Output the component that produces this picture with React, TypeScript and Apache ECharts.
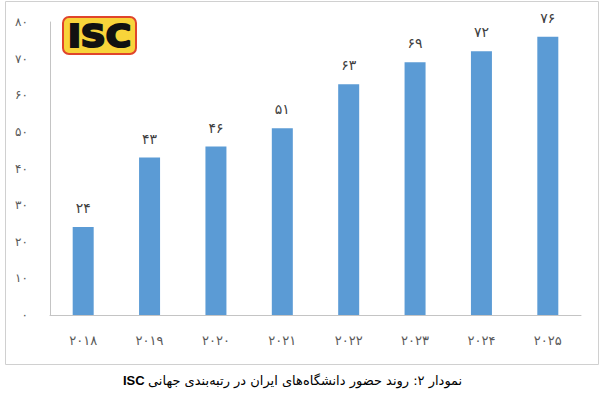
import React, { useEffect, useRef } from "react";
import * as echarts from "echarts";

// Years on the category axis (Persian digits)
const years = ["۲۰۱۸", "۲۰۱۹", "۲۰۲۰", "۲۰۲۱", "۲۰۲۲", "۲۰۲۳", "۲۰۲۴", "۲۰۲۵"];
// Number of Iranian universities in the ISC world ranking
const universities = [24, 43, 46, 51, 63, 69, 72, 76];
// Value axis range
const yMin = 0;
const yMax = 80;
const yStep = 10;

const caption = "نمودار ۲: روند حضور دانشگاه‌های ایران در رتبه‌بندی جهانی";

const faDigits = "۰۱۲۳۴۵۶۷۸۹";
const toFa = (v: number | string) =>
  String(v).replace(/[0-9]/g, (d) => faDigits[Number(d)]);

export default function App() {
  const ref = useRef<HTMLDivElement>(null);

  useEffect(() => {
    if (!ref.current) return;
    const chart = echarts.init(ref.current, undefined, { renderer: "svg" });
    const font = "'DejaVu Sans', sans-serif";
    chart.setOption({
      animation: false,
      backgroundColor: "#ffffff",
      grid: { left: 50, right: 19, top: 22, bottom: 89, containLabel: false },
      xAxis: {
        type: "category",
        data: years,
        axisLine: { show: true, lineStyle: { color: "#c4c4c4", width: 1 } },
        axisTick: { show: false },
        axisLabel: { color: "#595959", fontSize: 13, fontFamily: font, margin: 19 },
      },
      yAxis: {
        type: "value",
        min: yMin,
        max: yMax,
        interval: yStep,
        axisLine: { show: true, lineStyle: { color: "#c4c4c4", width: 1 } },
        axisTick: { show: false },
        splitLine: { show: false },
        axisLabel: {
          color: "#595959",
          fontSize: 12,
          fontFamily: font,
          margin: 22,
          formatter: (v: number) => toFa(v),
        },
      },
      series: [
        {
          type: "bar",
          data: universities,
          barWidth: 21,
          itemStyle: { color: "#5b9bd5" },
          label: {
            show: true,
            position: "top",
            distance: 12,
            color: "#404040",
            fontSize: 14,
            fontFamily: font,
            formatter: (p: any) => toFa(p.value),
          },
        },
      ],
      graphic: [
        {
          type: "rect",
          shape: { x: 5.5, y: 1.5, width: 593, height: 363 },
          style: { fill: "none", stroke: "#d0d0d0", lineWidth: 1 },
          silent: true,
        },
        {
          type: "group",
          left: 62,
          top: 16,
          children: [
            {
              type: "rect",
              shape: { x: 1, y: 1, width: 73, height: 37, r: 6 },
              style: { fill: "#f8d43a", stroke: "#e0452b", lineWidth: 2 },
            },
            {
              type: "text",
              x: 37.5,
              y: 20,
              scaleX: 1.08,
              style: {
                text: "ISC",
                fill: "#111111",
                stroke: "#111111",
                lineWidth: 2.2,
                font: "bold 32px 'DejaVu Sans', sans-serif",
                align: "center",
                verticalAlign: "middle",
              },
            },
          ],
        },
        {
          type: "text",
          left: 123,
          top: 374,
          style: {
            text: "{b|ISC} {n|" + caption + "}",
            rich: {
              b: {
                font: "bold 13px 'Liberation Sans', sans-serif",
                fill: "#000000",
              },
              n: {
                font: "13px 'DejaVu Sans', sans-serif",
                fill: "#000000",
              },
            },
          },
        },
      ],
    });
    return () => chart.dispose();
  }, []);

  return (
    <div
      ref={ref}
      style={{ position: "absolute", left: 0, top: 0, width: 600, height: 404 }}
    />
  );
}
